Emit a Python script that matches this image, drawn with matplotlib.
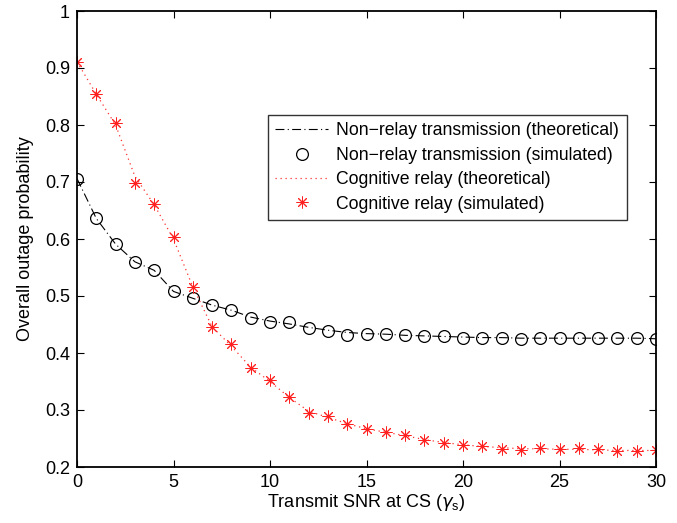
import matplotlib
matplotlib.use("Agg")
import matplotlib.pyplot as plt
import numpy as np

snr = list(range(0, 31))

nonrelay_sim = [0.706, 0.636, 0.591, 0.560, 0.545, 0.508, 0.496, 0.484, 0.475, 0.461,
                0.454, 0.454, 0.443, 0.439, 0.432, 0.434, 0.433, 0.432, 0.429, 0.430,
                0.426, 0.426, 0.426, 0.424, 0.426, 0.426, 0.427, 0.426, 0.426, 0.426, 0.424]
nonrelay_theo = [0.706, 0.636, 0.591, 0.560, 0.545, 0.508, 0.496, 0.484, 0.475, 0.463,
                 0.456, 0.451, 0.445, 0.440, 0.436, 0.434, 0.433, 0.431, 0.430, 0.429,
                 0.428, 0.427, 0.427, 0.426, 0.426, 0.426, 0.426, 0.426, 0.426, 0.426, 0.425]
relay_sim = [0.911, 0.854, 0.804, 0.698, 0.662, 0.603, 0.516, 0.446, 0.415, 0.373,
             0.352, 0.323, 0.295, 0.289, 0.275, 0.266, 0.261, 0.256, 0.247, 0.242,
             0.238, 0.236, 0.232, 0.230, 0.233, 0.231, 0.233, 0.232, 0.228, 0.228, 0.229]
relay_theo = [0.911, 0.854, 0.800, 0.710, 0.660, 0.600, 0.516, 0.446, 0.412, 0.375,
              0.350, 0.322, 0.298, 0.287, 0.276, 0.267, 0.261, 0.255, 0.248, 0.243,
              0.239, 0.236, 0.234, 0.232, 0.232, 0.231, 0.231, 0.230, 0.229, 0.229, 0.229]

labels = ["Non\u2212relay transmission (theoretical)",
          "Non\u2212relay transmission (simulated)",
          "Cognitive relay (theoretical)",
          "Cognitive relay (simulated)"]

plt.rcParams['font.family'] = ['Liberation Sans', 'DejaVu Sans']
plt.rcParams['mathtext.fontset'] = 'custom'
plt.rcParams['mathtext.it'] = 'DejaVu Sans:italic'
plt.rcParams['mathtext.rm'] = 'Liberation Sans'

fig = plt.figure(figsize=(6.77, 5.23), dpi=100)
ax = fig.add_axes([77/677, 1-467/523, (656-77)/677, (467-11)/523])

ax.plot(snr, nonrelay_theo, color='black', linestyle=(0, (8, 3, 1, 3)), linewidth=0.8, label=labels[0])
ax.plot(snr, nonrelay_sim, linestyle='none', marker='o', markersize=8.5, markerfacecolor='none',
        markeredgecolor='black', markeredgewidth=0.9, label=labels[1])
ax.plot(snr, relay_theo, color='#ff3030', linestyle=(0, (1, 3)), linewidth=0.9, label=labels[2])
ax.plot(snr, relay_sim, linestyle='none', marker=(8, 2, 0), markersize=8.5, color='#ff2020',
        markeredgewidth=0.7, label=labels[3])

ax.set_xlim(0, 30)
ax.set_ylim(0.2, 1.0)
ax.set_xticks([0, 5, 10, 15, 20, 25, 30])
ax.set_yticks([0.2, 0.3, 0.4, 0.5, 0.6, 0.7, 0.8, 0.9, 1.0])
ax.set_yticklabels(['0.2', '0.3', '0.4', '0.5', '0.6', '0.7', '0.8', '0.9', '1'])
ax.tick_params(direction='in', top=True, right=True, labelsize=13, length=5, width=0.8, pad=5)
for s in ax.spines.values():
    s.set_linewidth(1.3)

ax.set_xlabel(r"Transmit SNR at CS ($\gamma_\mathrm{s}$)", fontsize=13, labelpad=1)
ax.set_ylabel("Overall outage probability", fontsize=13, labelpad=8)

leg = ax.legend(loc='upper left', bbox_to_anchor=((268-77)/579, 1-(115-11)/456),
                fontsize=12.7, frameon=True, fancybox=False, edgecolor='black',
                borderpad=0.42, labelspacing=0.42, handlelength=3.0, handletextpad=0.45,
                borderaxespad=0)
leg.get_frame().set_linewidth(1.0)

fig.savefig("out.png", dpi=100)
